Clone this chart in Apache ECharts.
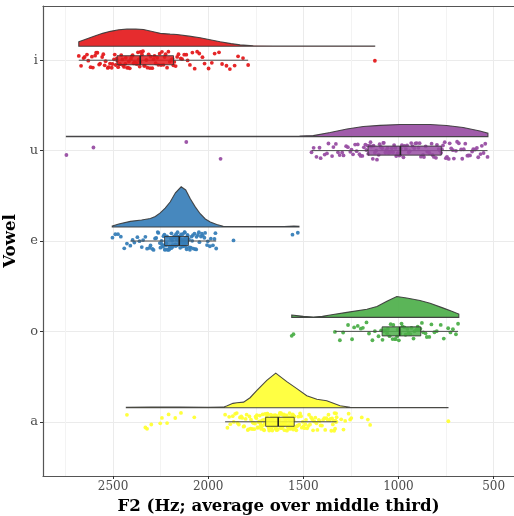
<!DOCTYPE html>
<html>
<head>
<meta charset="utf-8">
<script src="https://cdn.jsdelivr.net/npm/echarts@6/dist/echarts.min.js"></script>
<style>
  html, body { margin: 0; padding: 0; background: #ffffff; }
  #chart { width: 514px; height: 516px; }
</style>
</head>
<body>
<div id="chart"></div>
<script>
// Vowels from bottom (position 1) to top (position 5)
const vowelOrder = ['a', 'o', 'e', 'u', 'i'];

// Major / minor F2 ticks (Hz)
const f2Ticks = [500, 1000, 1500, 2000, 2500];
const f2MinorTicks = [750, 1250, 1750, 2250, 2750];

// Per-token F2 measurements (Hz)
const f2_i = [2680, 2668, 2655, 2649, 2637, 2630, 2618, 2611, 2606, 2594, 2589, 2582, 2573, 2568, 2557, 2551, 2544, 2539, 2528, 2523, 2516, 2507, 2503, 2495, 2491, 2486, 2481,
  2478, 2473, 2466, 2463, 2457, 2451, 2447, 2442, 2435, 2433, 2426, 2421, 2417, 2412, 2406, 2401, 2397, 2392, 2388, 2382, 2379, 2374, 2369, 2366, 2363, 2360, 2358,
  2355, 2348, 2343, 2337, 2333, 2325, 2319, 2313, 2306, 2302, 2294, 2287, 2282, 2276, 2268, 2262, 2255, 2248, 2243, 2235, 2229, 2224, 2216, 2209, 2202, 2194, 2187, 2183,
  2178, 2171, 2163, 2156, 2144, 2137, 2126, 2115, 2108, 2096, 2083, 2071, 2058, 2047, 2030, 2019, 1998, 1981, 1966, 1943, 1927, 1904, 1886, 1861, 1843, 1817, 1790,
  1124];

const f2_u = [2745, 2603, 2115, 1935,
  1457, 1446, 1431, 1415, 1409, 1388, 1376, 1368, 1349, 1342, 1329, 1318, 1309, 1296, 1289, 1275, 1266, 1253, 1247, 1239, 1228, 1220, 1214, 1205, 1199, 1190, 1182, 1174, 1169, 1162,
  1159, 1152, 1147, 1143, 1135, 1131, 1124, 1117, 1113, 1104, 1099, 1093, 1086, 1080, 1077, 1069, 1064, 1057, 1052, 1046, 1042, 1035, 1028, 1023, 1016, 1012, 1005, 1001, 996, 991,
  988, 982, 974, 969, 961, 955, 946, 941, 933, 926, 917, 911, 904, 895, 889, 882, 871, 866, 857, 849, 845, 837, 826, 821, 814, 803, 798, 789, 784, 776,
  772, 766, 757, 751, 745, 736, 731, 723, 714, 709, 698, 692, 683, 671, 665, 657, 649, 638, 632, 624, 613, 607, 598, 588, 581, 569, 562, 553, 544, 532];

const f2_e = [2503, 2488, 2474, 2459, 2441, 2427,
  2409, 2397, 2388, 2372, 2361, 2349, 2342, 2330, 2321, 2308, 2303, 2293, 2287, 2279, 2273, 2265, 2262, 2254, 2251, 2245, 2243, 2238, 2235, 2233, 2230,
  2228, 2225, 2221, 2220, 2216, 2213, 2212, 2207, 2205, 2202, 2201, 2197, 2194, 2193, 2189, 2187, 2186, 2182, 2179, 2177, 2176, 2172, 2170, 2169, 2166, 2163, 2161, 2160, 2158, 2155, 2154, 2152,
  2151, 2150, 2149, 2147, 2146, 2144, 2143, 2141, 2140, 2138, 2137, 2135, 2134, 2132, 2131, 2129, 2127, 2126, 2124, 2123, 2121, 2119, 2118, 2116, 2115, 2113, 2112, 2110, 2109, 2107, 2106, 2104,
  2101, 2098, 2096, 2091, 2087, 2084, 2080, 2078, 2072, 2068, 2063, 2061, 2054, 2049, 2046, 2038, 2033, 2029, 2020, 2016, 2006, 2002, 1991, 1986, 1975, 1967, 1962, 1958,
  1867, 1557, 1529];

const f2_o = [1561, 1552,
  1334, 1308, 1291, 1265, 1244, 1233, 1214, 1198, 1187, 1168, 1155, 1137, 1124, 1105, 1091,
  1084, 1077, 1071, 1060, 1056, 1047, 1041, 1031, 1027, 1019, 1015, 1007, 1004, 998, 995,
  991, 984, 979, 969, 963, 953, 948, 938, 932, 921, 916, 905, 899, 890, 885,
  877, 870, 858, 851, 838, 827, 811, 799, 778, 762, 739, 727, 714, 698, 687];

const f2_a = [2427, 2330, 2321, 2299, 2252, 2243, 2216, 2208, 2173, 2143, 2073,
  1911, 1899, 1890, 1884, 1871, 1866, 1858, 1850, 1846, 1839, 1833, 1826, 1821, 1814, 1811, 1803, 1798, 1792, 1789, 1783, 1778, 1775, 1769, 1766, 1761, 1758, 1754, 1751, 1747, 1744,
  1741, 1737, 1735, 1731, 1729, 1726, 1724, 1721, 1719, 1717, 1714, 1712, 1710, 1708, 1706, 1705, 1703, 1701, 1700, 1699,
  1697, 1696, 1693, 1692, 1690, 1689, 1686, 1685, 1684, 1681, 1679, 1678, 1677, 1674, 1672, 1671, 1670, 1667, 1665, 1664, 1663, 1660, 1658, 1657, 1656, 1653, 1651, 1650, 1649,
  1646, 1645, 1645, 1643, 1642, 1641, 1640, 1638, 1637, 1636, 1635, 1634, 1633, 1632, 1644, 1648, 1655, 1662, 1669, 1676, 1683,
  1631, 1629, 1628, 1625, 1623, 1621, 1620, 1617, 1616, 1614, 1611, 1609, 1608, 1605, 1604, 1602, 1600, 1599, 1596, 1595, 1594, 1591, 1590, 1588, 1586, 1585, 1582, 1581, 1579,
  1577, 1576, 1573, 1572, 1570, 1567, 1566, 1565, 1562, 1561, 1559, 1557, 1556, 1555, 1553, 1552, 1551, 1549, 1548, 1610, 1593,
  1546, 1541, 1537, 1534, 1529, 1526, 1521, 1517, 1512, 1508, 1503, 1499, 1494, 1489, 1486, 1480, 1474, 1470, 1465, 1459, 1453, 1449, 1443, 1437, 1431, 1426, 1419, 1414, 1409, 1402,
  1396, 1390, 1385, 1379, 1373, 1368, 1363, 1358, 1353, 1349, 1345, 1341, 1338, 1336, 1333, 1331, 1329, 1328, 1326, 1325,
  1301, 1289, 1280, 1262, 1254, 1248, 1193, 1161, 1149, 738];

// Box summaries: [lower whisker, Q1, median, Q3, upper whisker] (Hz)
const box_i = [1790, 2182, 2357, 2479, 2680];
const box_u = [532, 775, 990, 1160, 1457];
const box_e = [1958, 2104, 2152, 2229, 2409];
const box_o = [687, 883, 994, 1086, 1334];
const box_a = [1325, 1548, 1632, 1698, 1911];

// Kernel density outlines: [F2 (Hz), relative density]
const dens_i = [[2680, 0.11], [2640, 0.18], [2600, 0.25], [2555, 0.32], [2514, 0.37], [2470, 0.41], [2427, 0.425], [2380, 0.425], [2340, 0.415], [2288, 0.36], [2252, 0.32], [2200, 0.30], [2164, 0.29], [2100, 0.25], [2042, 0.21], [1990, 0.16], [1937, 0.11], [1880, 0.065], [1832, 0.033], [1763, 0.01], [1650, 0.003], [1125, 0.003]];
const dens_u = [[2745, 0.007], [2400, 0.007], [2000, 0.008], [1700, 0.01], [1520, 0.015], [1448, 0.025], [1359, 0.10], [1271, 0.19], [1185, 0.25], [1097, 0.28], [992, 0.30], [900, 0.30], [834, 0.30], [747, 0.275], [660, 0.225], [572, 0.14], [530, 0.085]];
const dens_e = [[2504, 0.025], [2470, 0.075], [2409, 0.14], [2350, 0.175], [2304, 0.21], [2278, 0.26], [2252, 0.35], [2226, 0.47], [2200, 0.62], [2172, 0.85], [2142, 1.0], [2118, 0.92], [2094, 0.70], [2068, 0.50], [2042, 0.33], [2015, 0.20], [1989, 0.125], [1955, 0.06], [1921, 0.018], [1850, 0.01], [1700, 0.01], [1600, 0.012], [1550, 0.022], [1523, 0.02]];
const dens_o = [[1561, 0.058], [1500, 0.025], [1447, 0.01], [1400, 0.025], [1359, 0.058], [1271, 0.125], [1166, 0.20], [1113, 0.27], [1061, 0.40], [1009, 0.52], [957, 0.48], [887, 0.42], [834, 0.35], [764, 0.23], [720, 0.15], [683, 0.083]];
const dens_a = [[2430, 0.012], [2300, 0.017], [2150, 0.015], [2000, 0.012], [1921, 0.015], [1900, 0.05], [1870, 0.11], [1849, 0.125], [1814, 0.14], [1780, 0.25], [1744, 0.43], [1692, 0.68], [1645, 0.86], [1587, 0.65], [1534, 0.475], [1482, 0.30], [1429, 0.21], [1377, 0.175], [1307, 0.05], [1254, 0.012], [1100, 0.008], [900, 0.008], [740, 0.008]];

const vowelData = {
  a: { f2: f2_a, box: box_a, dens: dens_a, color: '#FFFF33' },
  o: { f2: f2_o, box: box_o, dens: dens_o, color: '#4DAF4A' },
  e: { f2: f2_e, box: box_e, dens: dens_e, color: '#377EB8' },
  u: { f2: f2_u, box: box_u, dens: dens_u, color: '#984EA3' },
  i: { f2: f2_i, box: box_i, dens: dens_i, color: '#E41A1C' }
};

// Layout in y-axis units (one unit between vowel rows)
const CLOUD_OFFSET = 0.155;   // violin baseline above the row line
const CLOUD_HEIGHT = 0.445;   // height of a relative density of 1
const JITTER_SPAN = 0.2;      // total vertical spread of the rain points
const BOX_HALF = 0.05;        // half height of the boxes

// deterministic vertical jitter for the rain points (mulberry32-style mix)
function jitter(k, seed) {
  let t = (Math.imul(k + 1, 0x9E3779B9) + Math.imul(seed, 0x85EBCA6B)) >>> 0;
  t = Math.imul(t ^ (t >>> 15), t | 1);
  t ^= t + Math.imul(t ^ (t >>> 7), t | 61);
  return (((t ^ (t >>> 14)) >>> 0) / 4294967296) - 0.5;
}

const FONT = 'DejaVu Serif';
const chart = echarts.init(document.getElementById('chart'), null, { renderer: 'canvas' });

const series = [];

// Half-violin clouds
series.push({
  type: 'custom',
  z: 2,
  silent: true,
  clip: true,
  data: vowelOrder.map((v, idx) => [vowelData[v].box[2], idx + 1]),
  encode: { x: 0, y: 1 },
  renderItem: function (params, api) {
    const v = vowelOrder[params.dataIndex];
    const base = params.dataIndex + 1 + CLOUD_OFFSET;
    const dens = vowelData[v].dens;
    const top = dens.map(p => api.coord([p[0], base + p[1] * CLOUD_HEIGHT]));
    const bottom = dens.slice().reverse().map(p => api.coord([p[0], base]));
    return {
      type: 'polygon',
      shape: { points: top.concat(bottom) },
      style: { fill: vowelData[v].color, stroke: '#3a3a3a', lineWidth: 1.1, opacity: 0.92 }
    };
  }
});

// Rain points
vowelOrder.forEach((v, idx) => {
  const d = vowelData[v];
  series.push({
    type: 'scatter',
    z: 3,
    silent: true,
    symbol: 'circle',
    symbolSize: 3.8,
    itemStyle: { color: d.color, opacity: 0.95 },
    data: d.f2.map((hz, k) => [hz, idx + 1 + jitter(k, idx + 1) * JITTER_SPAN])
  });
});

// Box plots
series.push({
  type: 'custom',
  z: 4,
  silent: true,
  data: vowelOrder.map((v, idx) => [vowelData[v].box[2], idx + 1]),
  encode: { x: 0, y: 1 },
  renderItem: function (params, api) {
    const v = vowelOrder[params.dataIndex];
    const pos = params.dataIndex + 1;
    const b = vowelData[v].box;
    const lo = api.coord([b[0], pos]);
    const hi = api.coord([b[4], pos]);
    const c1 = api.coord([b[1], pos + BOX_HALF]);
    const c3 = api.coord([b[3], pos - BOX_HALF]);
    const m1 = api.coord([b[2], pos + BOX_HALF]);
    const m2 = api.coord([b[2], pos - BOX_HALF]);
    const x0 = Math.min(c1[0], c3[0]);
    const y0 = Math.min(c1[1], c3[1]);
    return {
      type: 'group',
      children: [
        { type: 'line', shape: { x1: lo[0], y1: lo[1], x2: hi[0], y2: hi[1] },
          style: { stroke: '#4a4a4a', lineWidth: 1 } },
        { type: 'rect', shape: { x: x0, y: y0, width: Math.abs(c3[0] - c1[0]), height: Math.abs(c3[1] - c1[1]) },
          style: { fill: vowelData[v].color, opacity: 0.85, stroke: '#333333', lineWidth: 1 } },
        { type: 'line', shape: { x1: m1[0], y1: m1[1], x2: m2[0], y2: m2[1] },
          style: { stroke: '#222222', lineWidth: 1.6 } }
      ]
    };
  }
});

const option = {
  animation: false,
  backgroundColor: '#ffffff',
  grid: { left: 43, right: 0, top: 6, bottom: 40, containLabel: false, outerBoundsMode: 'none' },
  xAxis: [
    {
      type: 'value',
      inverse: true,
      min: 393,
      max: 2868,
      position: 'bottom',
      name: 'F2 (Hz; average over middle third)',
      nameLocation: 'middle',
      nameGap: 17,
      nameTextStyle: { fontFamily: FONT, fontWeight: 'bold', fontSize: 16.6, color: '#000000' },
      axisLine: { show: true, lineStyle: { color: '#555555', width: 1.2 } },
      axisTick: { show: true, customValues: f2Ticks, length: 3, lineStyle: { color: '#333333' } },
      axisLabel: { show: true, customValues: f2Ticks, fontFamily: FONT, fontSize: 12, color: '#4d4d4d', margin: 5,
        formatter: value => String(value) },
      splitLine: { show: true, lineStyle: { color: '#ebebeb', width: 1 } }
    },
    {
      type: 'value',
      inverse: true,
      min: 393,
      max: 2868,
      position: 'top',
      axisLine: { show: true, lineStyle: { color: '#555555', width: 1.2 } },
      axisTick: { show: false, customValues: f2MinorTicks },
      axisLabel: { show: false },
      splitLine: { show: true, lineStyle: { color: '#f3f3f3', width: 1 } }
    }
  ],
  yAxis: {
    type: 'value',
    min: 0.4,
    max: 5.6,
    name: 'Vowel',
    nameLocation: 'middle',
    nameRotate: 90,
    nameGap: 14,
    nameTextStyle: { fontFamily: FONT, fontWeight: 'bold', fontSize: 16.6, color: '#000000' },
    axisLine: { show: true, lineStyle: { color: '#555555', width: 1.2 } },
    axisTick: { show: true, customValues: [1, 2, 3, 4, 5], length: 3, lineStyle: { color: '#333333' } },
    axisLabel: {
      show: true,
      customValues: [1, 2, 3, 4, 5],
      fontFamily: FONT, fontSize: 13, color: '#4d4d4d', margin: 5,
      formatter: value => vowelOrder[Math.round(value) - 1]
    },
    splitLine: { show: true, lineStyle: { color: '#ebebeb', width: 1 } }
  },
  series: series
};

chart.setOption(option);
</script>
</body>
</html>
